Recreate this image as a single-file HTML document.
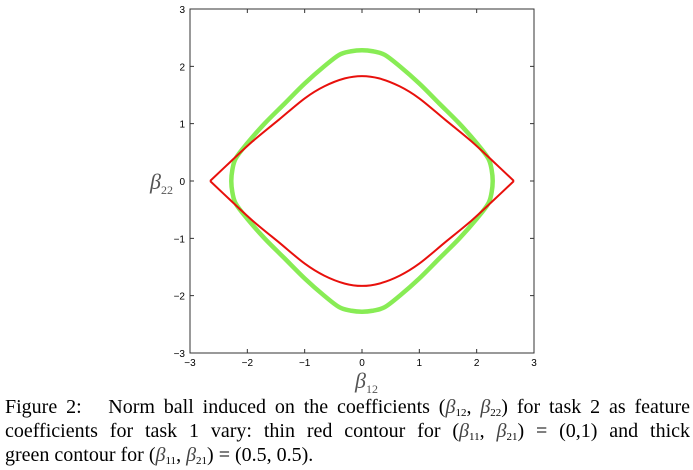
<!DOCTYPE html>
<html><head><meta charset="utf-8"><style>
body{margin:0;width:693px;height:470px;background:#fff;overflow:hidden;position:relative;font-family:"Liberation Serif",serif}
svg{position:absolute;left:0;top:0}
#cap{position:absolute;left:5px;top:395px;width:685px;font-size:20px;line-height:24px;color:#000}
#cap div{height:24px;white-space:nowrap}
#cap .j{text-align:justify;text-align-last:justify;white-space:normal}
sub{font-size:11px;vertical-align:-3px;line-height:0}
.b{font-style:italic;color:#444}
</style></head><body>
<svg width="693" height="395">
<g id="axes"></g>
<g id="curves"></g>
</svg>
<div id="cap">
<div class="j">Figure 2:&nbsp;&nbsp; Norm ball induced on the coefficients (<span class="b">β</span><sub>12</sub>, <span class="b">β</span><sub>22</sub>) for task 2 as feature</div>
<div class="j">coefficients for task 1 vary: thin red contour for (<span class="b">β</span><sub>11</sub>, <span class="b">β</span><sub>21</sub>) = (0,1) and thick</div>
<div>green contour for (<span class="b">β</span><sub>11</sub>, <span class="b">β</span><sub>21</sub>) = (0.5, 0.5).</div>
</div>
<script>
const ticks=[-3,-2,-1,0,1,2,3];
const redX=[0,0.3,0.66,1,1.45,1.91,2.3,2.65];
const redY=[1.83,1.79,1.65,1.44,1.07,0.69,0.33,0];
const greenX=[0,0.2,0.4,0.66,1,1.35,1.70,2.0,2.2,2.26,2.28];
const greenY=[2.28,2.26,2.2,2.0,1.70,1.35,1.0,0.66,0.4,0.2,0];
const X0=190,X1=534,Y0=353,Y1=9;
const sx=v=>X0+(v+3)/6*(X1-X0), sy=v=>Y0-(v+3)/6*(Y0-Y1);
const NS='http://www.w3.org/2000/svg';
function mk(t,a,p){const e=document.createElementNS(NS,t);for(const k in a)e.setAttribute(k,a[k]);p.appendChild(e);return e;}
const ax=document.getElementById('axes');
const fr=mk('rect',{x:X0,y:Y1,width:X1-X0,height:Y0-Y1,fill:'none',stroke:'#333','stroke-width':1},ax);


ticks.forEach(t=>{
  const x=sx(t),y=sy(t);
  mk('path',{d:`M${x},${Y0}v-4M${x},${Y1}v4M${X0},${y}h4M${X1},${y}h-4`,stroke:'#333','stroke-width':1},ax);
  const lx=mk('text',{x:x,y:Y0+13,'font-size':10,'text-anchor':'middle','font-family':'Liberation Sans, sans-serif'},ax);
  lx.textContent=t<0?'\u2212'+(-t):t;
  
  
  const ly=mk('text',{x:X0-5,y:y+4,'font-size':10,'text-anchor':'end','font-family':'Liberation Sans, sans-serif'},ax);
  ly.textContent=t<0?'\u2212'+(-t):t;
  
  
});
const xt=mk('text',{x:355,y:388,'font-size':22,'font-style':'italic',fill:'#555'},ax);
xt.innerHTML='β<tspan font-size="12" font-style="normal" dy="5">12</tspan>';


const yt=mk('text',{x:150,y:189,'font-size':22,'font-style':'italic',fill:'#555'},ax);
yt.innerHTML='β<tspan font-size="12" font-style="normal" dy="5">22</tspan>';


function cr(pts,closed){
  const n=pts.length;let d='M'+pts[0][0].toFixed(1)+','+pts[0][1].toFixed(1);
  const get=i=>closed?pts[(i+n)%n]:pts[Math.max(0,Math.min(n-1,i))];
  const m=closed?n:n-1;
  for(let i=0;i<m;i++){
    const p0=get(i-1),p1=get(i),p2=get(i+1),p3=get(i+2);
    const c1=[p1[0]+(p2[0]-p0[0])/6,p1[1]+(p2[1]-p0[1])/6];
    const c2=[p2[0]-(p3[0]-p1[0])/6,p2[1]-(p3[1]-p1[1])/6];
    d+=`C${c1[0].toFixed(1)},${c1[1].toFixed(1)} ${c2[0].toFixed(1)},${c2[1].toFixed(1)} ${p2[0].toFixed(1)},${p2[1].toFixed(1)}`;
  }
  return d+(closed?'Z':'');
}
function arc(xs,ys,sgn){
  const pts=[];
  for(let i=xs.length-1;i>0;i--)pts.push([sx(-xs[i]),sy(sgn*ys[i])]);
  for(let i=0;i<xs.length;i++)pts.push([sx(xs[i]),sy(sgn*ys[i])]);
  return pts;
}
const cv=document.getElementById('curves');
const gp=arc(greenX,greenY,1).concat(arc(greenX,greenY,-1).reverse().slice(1,-1));
const g=mk('path',{d:cr(gp,true),fill:'none',stroke:'#88ec55','stroke-width':4.5},cv);


const r=mk('path',{d:cr(arc(redX,redY,1),false)+cr(arc(redX,redY,-1),false),fill:'none',stroke:'#e8100c','stroke-width':2},cv);


</script>
</body></html>
